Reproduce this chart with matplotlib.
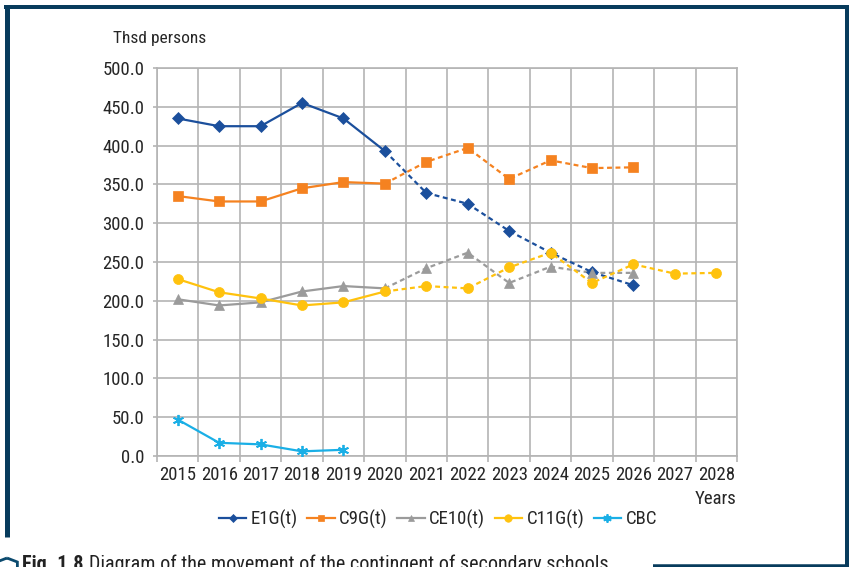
import matplotlib
matplotlib.use("Agg")
import matplotlib.pyplot as plt
import matplotlib.font_manager as fm
from matplotlib.lines import Line2D
from matplotlib.patches import RegularPolygon
import numpy as np

# ---------------- data ----------------
years = [str(y) for y in range(2015, 2029)]
e1g = [435, 425, 425, 455, 435, 393, 339, 325, 290, 262, 237, 220, None, None]
c9g = [335, 328, 328, 345, 353, 351, 379, 397, 357, 381, 371, 372, None, None]
ce10 = [202, 194, 198, 212, 219, 216, 242, 262, 223, 244, 236, 236, None, None]
c11g = [228, 211, 203, 194, 198, 212, 219, 216, 243, 262, 223, 247, 235, 236]
cbc = [47, 17, 15, 6, 8, None, None, None, None, None, None, None, None, None]
series_names = ["E1G(t)", "C9G(t)", "CE10(t)", "C11G(t)", "CBC"]
forecast_start = 5  # index of 2020: dashed from here on
y_ticks = [0, 50, 100, 150, 200, 250, 300, 350, 400, 450, 500]

# ---------------- font ----------------
names = {f.name for f in fm.fontManager.ttflist}
stretch = "normal"
if "Roboto Condensed" in names:
    fam = "Roboto Condensed"; base = 13.5
elif any(f.name == "DejaVu Sans" and str(f.stretch).lower().startswith("condensed")
         for f in fm.fontManager.ttflist):
    fam = "DejaVu Sans"; stretch = "condensed"; base = 12
else:
    fam = "Roboto"; base = 12
plt.rcParams["font.family"] = [fam, "DejaVu Sans"]
plt.rcParams["font.stretch"] = stretch

W, H = 849, 567
fig = plt.figure(figsize=(W / 100, H / 100), dpi=100)
ax = fig.add_axes([157 / W, 1 - 456 / H, (737 - 157) / W, (456 - 68) / H])

grid_c = "#B4B4B4"
text_c = "#262626"
x = np.arange(len(years))

styles = [
    dict(color="#1B4F9C", marker="D", ms=5.8),
    dict(color="#F58220", marker="s", ms=6.7),
    dict(color="#9B9B9B", marker="^", ms=6.7),
    dict(color="#FFC20E", marker="o", ms=7.2),
    dict(color="#1AAFE6", marker=(6, 2, 0), ms=8),
]
data = [e1g, c9g, ce10, c11g, cbc]

def arr(v):
    return np.array([np.nan if a is None else a for a in v], dtype=float)

handles = []
for vals, st, nm in zip(data, styles, series_names):
    v = arr(vals)
    c = st["color"]
    z = 3
    ax.plot(x[:forecast_start + 1], v[:forecast_start + 1], color=c, lw=1.6,
            solid_capstyle="butt", zorder=z)
    if np.any(~np.isnan(v[forecast_start + 1:])):
        ax.plot(x[forecast_start:], v[forecast_start:], color=c, lw=1.6,
                linestyle=(0, (2.2, 1.6)), zorder=z)
    mec = c
    mew = 1.3 if st["marker"] == (6, 2, 0) else 0.5
    ax.plot(x, v, linestyle="none", marker=st["marker"], ms=st["ms"], color=c,
            mec=mec, mew=mew, zorder=z + 0.1)
    handles.append(Line2D([], [], color=c, lw=1.6, marker=st["marker"],
                          ms=st["ms"] * 0.75, mec=mec, mew=mew))

ax.set_xlim(-0.5, len(years) - 0.5)
ax.set_ylim(0, 500)
ax.set_xticks(x)
ax.set_xticklabels(years)
ax.set_xticks(np.arange(-0.5, len(years)), minor=True)
ax.set_yticks(y_ticks)
ax.set_yticklabels([f"{t:.1f}" for t in y_ticks])
ax.tick_params(axis="x", which="major", length=0, pad=7, labelsize=base, labelcolor=text_c)
ax.tick_params(axis="x", which="minor", length=4, width=1.2, color=grid_c)
ax.tick_params(axis="y", which="major", length=3, width=1.2, color=grid_c, pad=6,
               labelsize=base, labelcolor=text_c)
ax.grid(True, which="minor", axis="x", color=grid_c, lw=1.2)
ax.grid(True, which="major", axis="y", color=grid_c, lw=1.2)
ax.set_axisbelow(True)
for s in ax.spines.values():
    s.set_color(grid_c)
    s.set_linewidth(1.2)

fig.text(113 / W, 1 - 38 / H, "Thsd persons", fontsize=base - 1, color=text_c,
         ha="left", va="center")
fig.text(736 / W, 1 - 499 / H, "Years", fontsize=base, color=text_c,
         ha="right", va="center")

fig.legend(handles, series_names, loc="center", ncol=5,
           bbox_to_anchor=(438 / W, 1 - 519 / H), frameon=False,
           fontsize=base, handlelength=1.45, handletextpad=0.25,
           columnspacing=0.5, labelcolor=text_c)

# ---------------- frame ----------------
navy = "#073B5C"
def fline(x0, y0, x1, y1, lw_px):
    fig.add_artist(Line2D([x0 / W, x1 / W], [1 - y0 / H, 1 - y1 / H],
                          transform=fig.transFigure, color=navy,
                          lw=lw_px * 0.72, solid_capstyle="butt"))
fline(4, 7, 849, 7, 4)
fline(6.5, 5, 6.5, 537, 5)
fline(846.5, 5, 846.5, 567, 4)
fline(653, 565.5, 849, 565.5, 3.5)

# ---------------- caption (cut off at bottom, as in the reference) ----------------
fig.add_artist(RegularPolygon((7 / W, 1 - 566 / H), numVertices=6, radius=8 / H,
                              orientation=0, transform=fig.transFigure,
                              fill=False, edgecolor="#0B4A6E", lw=2))
fig.text(22 / W, 1 - 555 / H, "Fig. 1.8", fontsize=base + 1, fontweight="bold",
         color="#222222", ha="left", va="top")
fig.text(89 / W, 1 - 555 / H,
         "Diagram of the movement of the contingent of secondary schools",
         fontsize=base + 1, color="#222222", ha="left", va="top")

fig.savefig("out.png", dpi=100)
